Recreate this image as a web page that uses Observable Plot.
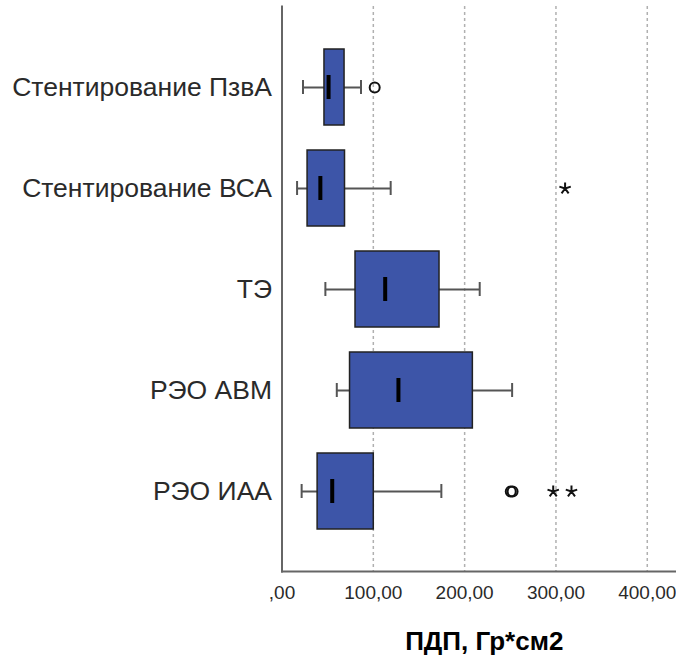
<!DOCTYPE html>
<html>
<head>
<meta charset="utf-8">
<script src="https://cdn.jsdelivr.net/npm/d3@7"></script>
<script src="https://cdn.jsdelivr.net/npm/@observablehq/plot@0.6"></script>
<style>
  html, body { margin: 0; padding: 0; background: #fff; }
  #chart svg { font-family: "Liberation Sans", Arial, sans-serif; }
</style>
</head>
<body>
<div id="chart"></div>
<script>
// Groups (top to bottom)
const groups = ["Стентирование ПзвА", "Стентирование ВСА", "ТЭ", "РЭО АВМ", "РЭО ИАА"];
// Box statistics (ПДП, Гр*см2)
const whiskerLow  = [23,   16.5, 47.5,  60,    21.5];
const q1          = [46.5, 28,   80.5,  74.5,  39];
const median      = [51,   42,   113,   127.5, 55];
const q3          = [68.5, 69,   172.5, 209,   100.5];
const whiskerHigh = [86.5, 119,  216.5, 252,   174.5];
// Outliers (circles) and extreme values (stars)
const outlierGroup = ["Стентирование ПзвА", "РЭО ИАА", "РЭО ИАА"];
const outlierValue = [101.5, 250.5, 252.5];
const extremeGroup = ["Стентирование ВСА", "РЭО ИАА", "РЭО ИАА"];
const extremeValue = [310, 297, 317];
// Axis ticks
const xTicks = [0, 100, 200, 300, 400];
const xTickLabels = [",00", "100,00", "200,00", "300,00", "400,00"];
const xTitle = "ПДП, Гр*см2";

const boxes = groups.map((g, i) => ({
  group: g, lo: whiskerLow[i], q1: q1[i], med: median[i], q3: q3[i], hi: whiskerHigh[i]
}));
const outliers = outlierGroup.map((g, i) => ({group: g, value: outlierValue[i]}));
const extremes = extremeGroup.map((g, i) => ({group: g, value: extremeValue[i]}));
const caps = boxes.flatMap(d => [{group: d.group, value: d.lo}, {group: d.group, value: d.hi}]);

// five-armed asterisk symbol (SPSS extreme-value marker)
const asterisk5 = {
  draw(context, size) {
    const r = Math.sqrt(size / Math.PI);
    for (let k = 0; k < 5; ++k) {
      const a = -Math.PI / 2 + k * 2 * Math.PI / 5;
      context.moveTo(0, 0);
      context.lineTo(r * Math.cos(a), r * Math.sin(a));
    }
  }
};

const plot = Plot.plot({
  width: 676,
  height: 662,
  marginLeft: 281.5,
  marginRight: 0,
  marginTop: 6,
  marginBottom: 91,
  style: {background: "#fff", color: "#2a2a2a"},
  x: {domain: [0, 432]},
  y: {domain: groups, type: "band", paddingInner: 0.25, paddingOuter: 0.415},
  marks: [
    Plot.gridX({ticks: xTicks.filter(d => d > 0), stroke: "#b0b0b0", strokeOpacity: 1, strokeWidth: 1.5, strokeDasharray: "3,3"}),
    Plot.frame({anchor: "left", stroke: "#666", strokeWidth: 2}),
    Plot.frame({anchor: "bottom", stroke: "#666", strokeWidth: 2}),
    Plot.axisX({ticks: xTicks, tickSize: 0, tickPadding: 14, fontSize: 19, label: null,
      tickFormat: d => xTickLabels[xTicks.indexOf(d)]}),
    Plot.axisY({tickSize: 0, tickPadding: 10, fontSize: 26.5, label: null}),
    Plot.ruleY(boxes, {y: "group", x1: "lo", x2: "hi", stroke: "#555", strokeWidth: 2}),
    Plot.tickX(caps, {x: "value", y: "group", stroke: "#555", strokeWidth: 2, insetTop: 31, insetBottom: 31}),
    Plot.barX(boxes, {y: "group", x1: "q1", x2: "q3", fill: "#3d55a8", stroke: "#222", strokeWidth: 1.5}),
    Plot.tickX(boxes, {x: "med", y: "group", stroke: "#000", strokeWidth: 4, insetTop: 26, insetBottom: 26}),
    Plot.dot(outliers, {x: "value", y: "group", r: 5, stroke: "#111", strokeWidth: 2, fill: "none"}),
    Plot.dot(extremes, {x: "value", y: "group", r: 6, symbol: asterisk5, fill: "none", stroke: "#111", strokeWidth: 2}),
    Plot.text([xTitle], {frameAnchor: "bottom", dy: 78, dx: 5, fontSize: 26, fontWeight: "bold", fill: "#000", text: d => d})
  ]
});
document.getElementById("chart").appendChild(plot);
</script>
</body>
</html>
